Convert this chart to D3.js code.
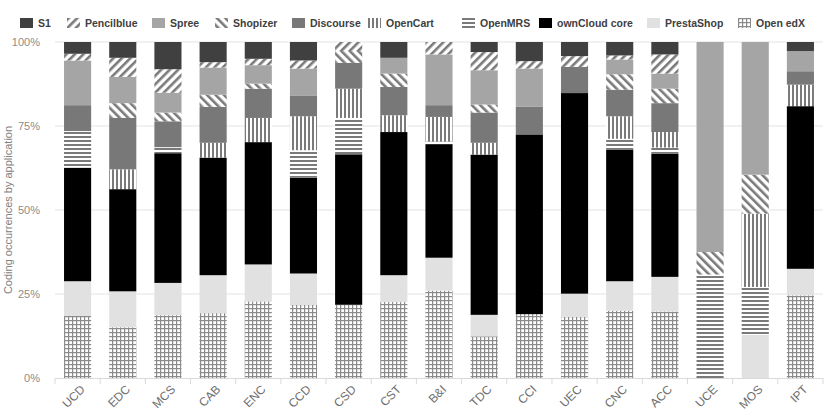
<!DOCTYPE html>
<html>
<head>
<meta charset="utf-8">
<script src="https://cdn.jsdelivr.net/npm/d3@7"></script>
<style>
  body { margin: 0; background: #fff; }
  svg { font-family: "Liberation Sans", Arial, sans-serif; }
</style>
</head>
<body>
<svg id="chart" width="830" height="413"></svg>
<script>
// applications on the x axis
const categories = ["UCD", "EDC", "MCS", "CAB", "ENC", "CCD", "CSD", "CST", "B&I", "TDC", "CCI", "UEC", "CNC", "ACC", "UCE", "MOS", "IPT"];

// series, bottom of the stack first (values in %)
const openEdX      = [18.5, 15.1, 18.7, 19.3, 22.8, 21.8, 21.8, 22.6, 26.0, 12.4, 19.0, 18.2, 20.0, 19.8, 0, 0, 24.6];
const prestaShop   = [10.3, 10.7, 9.6, 11.3, 11.0, 9.3, 0, 8.0, 9.8, 6.4, 0, 6.9, 8.8, 10.3, 0, 12.9, 7.9];
const ownCloud     = [33.8, 30.4, 38.6, 35.0, 36.4, 28.5, 44.8, 42.6, 33.8, 47.7, 53.5, 59.7, 39.2, 36.6, 0, 0, 48.4];
const openMRS      = [10.9, 0, 1.8, 0, 0, 8.2, 10.8, 0, 0.8, 0, 0, 0, 3.2, 1.9, 30.8, 14.2, 0];
const openCart     = [0, 5.9, 0, 4.4, 7.2, 10.1, 8.7, 5.0, 7.3, 3.5, 0, 0, 6.7, 4.6, 0, 21.8, 6.4];
const discourse    = [7.7, 15.3, 7.7, 10.7, 8.7, 6.2, 7.7, 8.4, 3.5, 9.0, 8.2, 7.8, 7.9, 8.6, 0, 0, 4.0];
const shopizer     = [0, 4.4, 2.6, 3.6, 1.5, 0, 3.5, 4.0, 0, 2.4, 0, 0, 4.6, 4.3, 6.7, 11.6, 0];
const spree        = [13.3, 7.8, 5.9, 8.1, 5.5, 8.0, 0, 4.7, 15.1, 10.2, 11.4, 0, 4.4, 4.5, 62.5, 39.5, 6.0];
const pencilblue   = [2.0, 5.7, 7.0, 1.6, 1.9, 2.4, 2.7, 0, 3.7, 5.4, 2.2, 3.2, 1.2, 5.7, 0, 0, 0];
const s1           = [3.5, 4.7, 8.1, 6.0, 5.0, 5.5, 0, 4.7, 0, 3.0, 5.7, 4.2, 4.0, 3.7, 0, 0, 2.7];

const seriesNames = ["Open edX", "PrestaShop", "ownCloud core", "OpenMRS", "OpenCart", "Discourse", "Shopizer", "Spree", "Pencilblue", "S1"];
const seriesValues = [openEdX, prestaShop, ownCloud, openMRS, openCart, discourse, shopizer, spree, pencilblue, s1];
const legendOrder = ["S1", "Pencilblue", "Spree", "Shopizer", "Discourse", "OpenCart", "OpenMRS", "ownCloud core", "PrestaShop", "Open edX"];
const yTicks = [0, 0.25, 0.5, 0.75, 1];

const svg = d3.select("#chart");
const width = 830, height = 413;
const margin = {top: 42, right: 7, bottom: 35, left: 55};

// patterns
const defs = svg.append("defs");
const stroke = "#7a7a7a";
function stripes(id, angle, size, w) {
  const p = defs.append("pattern").attr("id", id)
    .attr("patternUnits", "userSpaceOnUse")
    .attr("width", size).attr("height", size)
    .attr("patternTransform", "rotate(" + angle + ")");
  p.append("rect").attr("width", size).attr("height", size).attr("fill", "#fff");
  p.append("rect").attr("x", 0).attr("y", 0).attr("width", w).attr("height", size).attr("fill", stroke);
}
stripes("p-pencil", 45, 6, 2.6);
stripes("p-shop", -45, 6, 2.6);
stripes("p-cart", 0, 4, 2);
stripes("p-mrs", 90, 4, 2);
(function() {
  const p = defs.append("pattern").attr("id", "p-edx")
    .attr("patternUnits", "userSpaceOnUse").attr("width", 4).attr("height", 4);
  p.append("rect").attr("width", 4).attr("height", 4).attr("fill", "#fff");
  p.append("rect").attr("x", 0).attr("y", 0).attr("width", 1.2).attr("height", 4).attr("fill", "#8a8a8a");
  p.append("rect").attr("x", 0).attr("y", 0).attr("width", 4).attr("height", 1.2).attr("fill", "#8a8a8a");
})();

const fills = {
  "S1": "#404040",
  "Pencilblue": "url(#p-pencil)",
  "Spree": "#a5a5a5",
  "Shopizer": "url(#p-shop)",
  "Discourse": "#787878",
  "OpenCart": "url(#p-cart)",
  "OpenMRS": "url(#p-mrs)",
  "ownCloud core": "#000000",
  "PrestaShop": "#e1e1e1",
  "Open edX": "url(#p-edx)"
};

// table for stacking
const table = categories.map((c, i) => {
  const row = {cat: c};
  seriesNames.forEach((s, j) => row[s] = seriesValues[j][i]);
  return row;
});
const stacked = d3.stack().keys(seriesNames).offset(d3.stackOffsetExpand)(table);

const x = d3.scaleBand().domain(categories)
  .range([margin.left, width - margin.right])
  .paddingInner(0.4).paddingOuter(0.2);
const y = d3.scaleLinear().domain([0, 1]).range([height - margin.bottom, margin.top]);

// grid
svg.append("g").selectAll("line").data(yTicks.slice(1)).join("line")
  .attr("x1", margin.left).attr("x2", width - margin.right)
  .attr("y1", d => y(d)).attr("y2", d => y(d))
  .attr("stroke", "#e3e3e3").attr("stroke-width", 1);

// y axis labels
const yAxis = svg.append("g")
  .attr("transform", "translate(" + (margin.left - 12) + ",0)")
  .call(d3.axisLeft(y).tickValues(yTicks).tickFormat(d3.format(".0%")).tickSize(0));
yAxis.select(".domain").remove();
yAxis.selectAll("text").attr("fill", "#8c8c8c").style("font-size", "11px");

svg.append("text")
  .attr("transform", "translate(12," + ((margin.top + height - margin.bottom) / 2) + ") rotate(-90)")
  .attr("text-anchor", "middle")
  .attr("fill", "#808080")
  .style("font-size", "11px")
  .text("Coding occurrences by application");

// bars
svg.append("g").selectAll("g").data(stacked).join("g")
  .attr("fill", d => fills[d.key])
  .selectAll("rect").data(d => d).join("rect")
  .attr("x", d => x(d.data.cat))
  .attr("y", d => y(d[1]))
  .attr("height", d => Math.max(0, y(d[0]) - y(d[1])))
  .attr("width", x.bandwidth());

// x axis
const base = height - margin.bottom;
svg.append("line")
  .attr("x1", margin.left).attr("x2", width - margin.right)
  .attr("y1", base + 0.5).attr("y2", base + 0.5)
  .attr("stroke", "#d9d9d9");
const step = x.step();
const bounds = d3.range(categories.length + 1).map(i => margin.left + i * step);
svg.append("g").selectAll("line").data(bounds).join("line")
  .attr("x1", d => d).attr("x2", d => d)
  .attr("y1", base).attr("y2", base + 6)
  .attr("stroke", "#d9d9d9");

const xAxis = svg.append("g")
  .attr("transform", "translate(0," + base + ")")
  .call(d3.axisBottom(x).tickSize(0));
xAxis.select(".domain").remove();
xAxis.selectAll("text")
  .attr("fill", "#6e6e6e")
  .style("font-size", "12px")
  .attr("text-anchor", "end")
  .attr("dy", 0)
  .attr("transform", "translate(6,10) rotate(-45)");

// legend
const legendX = [20, 67, 152, 215, 292, 368, 462, 539, 647, 738];
const lg = svg.append("g").selectAll("g").data(legendOrder).join("g")
  .attr("transform", (d, i) => "translate(" + legendX[i] + ",18)");
lg.append("rect")
  .attr("width", 13).attr("height", 10)
  .attr("fill", d => fills[d]);
lg.append("text")
  .attr("x", 18).attr("y", 9)
  .attr("fill", "#404040")
  .style("font-size", "10.5px")
  .style("font-weight", "bold")
  .text(d => d);
</script>
</body>
</html>
